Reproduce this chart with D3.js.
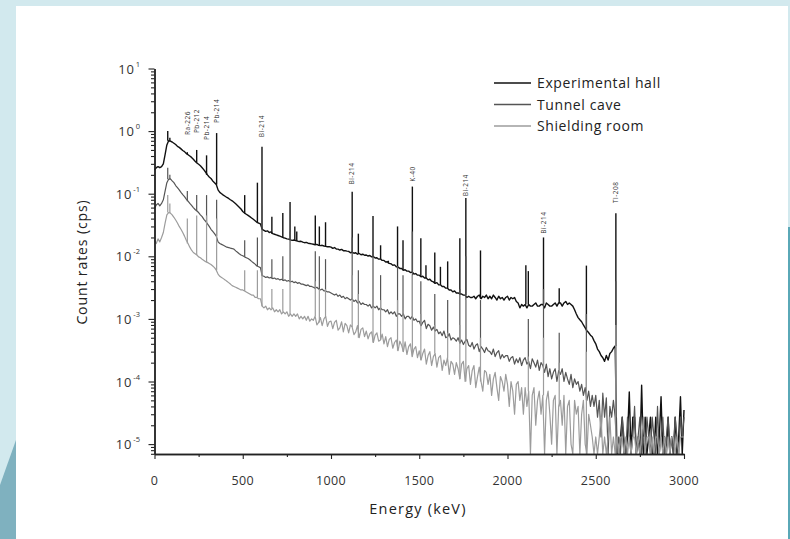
<!DOCTYPE html>
<html>
<head>
<meta charset="utf-8">
<script src="https://cdn.jsdelivr.net/npm/d3@7"></script>
<style>
body{margin:0;background:#fff;}
svg{display:block;font-family:"Open Sans",sans-serif;}
</style>
</head>
<body>
<script>
//energy grid of the spectra: one channel value every 10 keV from 0 keV
var eStart = 0, eStep = 10;

//experimental hall continuum (cps), rows of 100 keV
var hallCounts = [
 .24,.26,.27,.26,.27,.30,.42,.60,.70,.69,
 .67,.64,.61,.57,.55,.52,.49,.47,.44,.42,
 .40,.38,.355,.33,.31,.295,.28,.26,.24,.22,
 .20,.185,.175,.16,.15,.14,.115,.105,.10,.095,
 .091,.087,.084,.08,.077,.073,.069,.065,.061,.057,
 .052,.049,.047,.045,.043,.041,.039,.037,.035,.034,
 .033,.027,.026,.025,.0255,.024,.0245,.023,.0225,.022,
 .0215,.021,.0205,.0198,.0195,.019,.0188,.0183,.018,.0182,
 .0178,.0175,.0172,.0174,.0168,.0165,.0167,.0162,.016,.0158,
 .0156,.0153,.0155,.015,.0148,.015,.0146,.0144,.0142,.0143,
 .014,.0134,.0138,.0131,.013,.0126,.0129,.0123,.0123,.0121,
 .012,.0114,.0116,.0112,.0114,.0108,.0111,.0106,.0108,.0104,
 .0105,.0101,.0103,.0098,.0099,.0094,.0095,.009,.0091,.0086,
 .0086,.0081,.0082,.0077,.0076,.0072,.0073,.0068,.0067,.0064,
 .0064,.006,.0061,.0058,.0058,.0055,.0056,.0052,.0053,.005,
 .005,.0047,.0048,.0045,.0045,.0042,.0043,.004,.0039,.0037,
 .0038,.0035,.0035,.0033,.0033,.0031,.0031,.0029,.0029,.0027,
 .0028,.0026,.0026,.0025,.0025,.0024,.0024,.0022,.0023,.0022,
 .0022,.0023,.0021,.0023,.0024,.0021,.0023,.0022,.0024,.0021,
 .0023,.0021,.0024,.0022,.002,.0023,.0021,.0022,.002,.0022,
 .0023,.002,.0022,.0021,.0022,.0019,.0018,.0015,.0017,.0016,
 .0017,.0015,.0017,.0016,.0016,.0017,.0018,.0016,.0016,.0017,
 .0017,.0015,.0018,.0017,.0016,.0016,.0017,.0018,.0016,.0018,
 .0018,.0016,.0018,.0019,.0017,.0018,.0017,.0016,.0014,.0012,
 .00105,.00097,.0009,.0008,.00072,.00065,.0006,.00055,.00052,.00045,
 .0004,.00033,.0003,.00026,.00024,.00021,.00026,.00022,.00028,.0003,
 .00034,.00037,0,0,1.3e-5,2.7e-5,0,0,1.3e-5,6.8e-5,
 0,2.7e-5,2.7e-5,0,1.3e-5,0,8.7e-5,0,2.7e-5,0,
 1.3e-5,2.7e-5,0,0,2.7e-5,0,1.3e-5,5.7e-5,0,1.3e-5,
 0,2.7e-5,0,1.3e-5,0,2.7e-5,0,1.3e-5,5.7e-5,0,
 3.5e-5
];

//tunnel cave continuum (cps)
var tunnelCounts = [
 .058,.066,.07,.064,.07,.08,.11,.15,.17,.172,
 .16,.15,.135,.125,.115,.105,.097,.09,.082,.076,
 .07,.065,.06,.056,.053,.05,.046,.043,.039,.036,
 .033,.03,.027,.025,.023,.021,.017,.016,.0155,.015,
 .0145,.014,.0138,.0135,.0133,.013,.0122,.0116,.011,.0105,
 .0102,.0098,.0095,.0092,.0088,.0083,.0079,.0075,.007,.0068,
 .0066,.0049,.0048,.0046,.0047,.0045,.0046,.0044,.0045,.0043,
 .0044,.0042,.0043,.0041,.0042,.004,.0041,.0039,.004,.0038,
 .0039,.0037,.0038,.0036,.0036,.0035,.0034,.0035,.0033,.0033,
 .0032,.0031,.0032,.003,.0029,.003,.0028,.0028,.0027,.0027,
 .0026,.0025,.0024,.0025,.0023,.0024,.0022,.0023,.0021,.0022,
 .0021,.002,.0021,.0019,.002,.0018,.0019,.0017,.0018,.0017,
 .0017,.0016,.0017,.0015,.0016,.0015,.0016,.0014,.0015,.0014,
 .0014,.0013,.0014,.0012,.0013,.0012,.0013,.0011,.0012,.0012,
 .0011,.0012,.001,.0011,.0011,.001,.0011,.00095,.001,.0009,
 .00092,.00078,.00088,.00095,.0007,.00082,.00078,.00066,.00074,.00064,
 .00068,.00058,.00062,.00054,.00064,.0005,.00052,.00058,.00046,.0005,
 .00048,.00044,.0005,.00041,.00046,.00039,.00044,.00047,.00038,.00036,
 .00042,.00033,.00038,.0004,.0003,.00036,.00033,.00029,.00035,.00031,
 .0003,.00027,.00033,.00025,.00029,.00031,.00023,.00027,.00024,.00026,
 .00026,.00021,.00024,.00025,.00019,.00023,.0002,.00024,.00018,.00022,
 .00024,.00019,.00021,.00016,.00023,.0002,.00017,.00022,.00015,.0002,
 .00018,.00014,.00019,.00012,.00016,.00011,.00014,.00016,.0001,.00015,
 .00013,.00016,.0001,.00014,.00011,.00009,.00013,.00008,.00011,.00009,
 .0001,.00007,.00009,.00006,.00008,.00005,.00007,.00004,.00006,.00004,
 6e-5,2.7e-5,5e-5,1.3e-5,6.5e-5,2.7e-5,5.5e-5,0,4e-5,2.7e-5,
 5e-5,2.7e-5,0,1.3e-5,0,2.7e-5,1.3e-5,0,2.7e-5,1.3e-5,
 0,1.3e-5,4e-5,0,1.3e-5,2.7e-5,0,1.3e-5,0,2.7e-5,
 1.3e-5,0,2.7e-5,1.3e-5,0,4e-5,0,1.3e-5,2.7e-5,0,
 1.3e-5,2.7e-5,0,1.3e-5,0,2.7e-5,1.3e-5,0,2.7e-5,1.3e-5,
 2.7e-5
];

//shielding room continuum (cps)
var shieldCounts = [
 .018,.016,.019,.017,.02,.024,.034,.046,.05,.049,
 .046,.042,.038,.034,.03,.027,.024,.021,.018,.016,
 .014,.0125,.0115,.011,.0105,.0098,.0095,.009,.0086,.0082,
 .008,.0077,.0074,.007,.0066,.006,.0052,.0048,.0046,.0044,
 .0042,.004,.0038,.0036,.0034,.0033,.0032,.0031,.003,.0029,
 .0029,.0028,.0027,.0026,.0025,.0024,.0024,.0022,.0022,.0021,
 .0021,.0016,.0015,.0016,.0014,.0015,.0014,.0015,.0013,.0014,
 .0013,.0014,.0012,.0013,.0012,.0013,.0011,.0012,.0011,.0012,
 .0011,.0012,.001,.0011,.001,.0011,.00095,.0011,.00092,.001,
 .00095,.0011,.0008,.00088,.00105,.00078,.001,.0011,.00076,.0009,
 .00092,.0007,.00088,.00095,.00066,.00072,.0009,.00062,.00085,.00078,
 .0006,.0008,.00074,.00056,.00062,.00078,.0005,.00068,.00072,.00052,
 .00064,.00048,.00058,.00062,.00042,.00055,.0006,.00044,.00046,.00057,
 .0004,.00052,.00036,.00047,.0005,.00034,.00042,.00046,.00031,.00044,
 .00038,.0003,.00043,.00027,.00036,.0004,.00025,.00033,.00036,.00024,
 .00031,.00022,.00028,.00033,.00019,.00026,.0003,.00018,.00025,.00028,
 .00017,.00024,.00026,.00015,.00022,.00018,.00024,.00013,.00021,.00019,
 .00013,.0002,.00016,.00011,.00019,.00021,.0001,.00016,.00018,.00009,
 .00015,.00018,.00008,.00012,.00017,.0001,.00007,.00015,.00014,.00009,
 .00013,.00006,.00011,.00014,.00008,.00005,.00012,.0001,.00007,.00013,
 .00009,.00004,.0001,.00007,.00003,.00009,.0001,.00005,.00008,.00003,
 .00008,.00004,.00007,0,.00006,.00008,.00002,.00005,.00007,.00003,
 .00006,0,.00005,.00007,.00003,.00001,.00005,.00006,0,.00004,
 .00005,.00002,.00006,0,.00004,.00005,.00001,0,.00005,.00003,
 .00004,0,.00003,.00005,.00001,0,.00003,.00002,.000013,0,
 .000013,0,.000013,.000027,0,.000013,0,.000013,.000027,0,
 .000013,0,.000013,0,.000013,.000013,0,.000013,0,.000013,
 0,.000013,.000013,0,.000013,0,.000013,.000027,0,.000013,
 .000013,0,.000013,0,.000013,.000013,0,.000013,0,.000013,
 0,.000013,0,.000013,.000013,0,.000013,0,.000013,.000013,
 .000013
];

//gamma lines: [energy keV, peak top cps]
var hallPeaks = [[75,1.0],[87,.78],[186,.46],[239,.5],[295,.41],[352,.93],[511,.095],[583,.15],
 [609,.56],[665,.043],[727,.049],[768,.074],[795,.03],[806,.025],[911,.045],[934,.03],[969,.035],
 [1120,.107],[1155,.023],[1238,.044],[1281,.015],[1325,.0085],[1377,.03],[1408,.018],[1461,.13],
 [1509,.0195],[1538,.0072],[1588,.0115],[1620,.0068],[1661,.0083],[1730,.0195],[1764,.085],
 [1847,.0124],[2104,.0072],[2118,.0058],[2204,.02],[2293,.0031],[2447,.0071],[2614,.0486]];
var tunnelPeaks = [[75,.26],[87,.2],[186,.11],[239,.095],[295,.095],[352,.08],[511,.018],[583,.02],
 [609,.065],[665,.009],[727,.01],[768,.025],[911,.012],[934,.01],[969,.009],[1120,.02],[1155,.006],
 [1238,.012],[1281,.005],[1377,.007],[1408,.005],[1461,.025],[1509,.004],[1588,.0025],[1661,.002],
 [1730,.003],[1764,.01],[1847,.002],[2118,.001],[2204,.003],[2293,.0006],[2447,.0012],[2614,.004]];
var shieldPeaks = [[75,.095],[87,.07],[186,.04],[239,.045],[295,.045],[352,.04],[511,.006],[583,.006],
 [609,.02],[665,.003],[727,.003],[768,.005],[911,.004],[934,.003],[969,.003],[1120,.005],[1155,.0025],
 [1238,.003],[1281,.002],[1377,.002],[1408,.0015],[1461,.005],[1509,.0012],[1588,.0008],[1661,.0006],
 [1730,.0008],[1764,.002],[1847,.0005],[2118,.00025],[2204,.0005],[2293,.0002],[2447,.0003],[2614,.0008]];

//peak annotations: [name, energy keV, cps where the label starts]
var peakLabels = [["Ra-226",186,.87],["Pb-212",239,.93],["Pb-214",295,.72],["Pb-214",352,1.35],
 ["Bi-214",609,.8],["Bi-214",1120,.14],["K-40",1461,.155],["Bi-214",1764,.091],
 ["Bi-214",2204,.023],["Tl-208",2614,.071]];

var seriesNames = ["Experimental hall", "Tunnel cave", "Shielding room"];
var xTicks = [0, 500, 1000, 1500, 2000, 2500, 3000];
var yDecades = [-5, -4, -3, -2, -1, 0, 1];

var width = 790, height = 539;
var colors = ["#111", "#555", "#9c9c9c"];

var svg = d3.select("body").append("svg")
    .attr("width", width)
    .attr("height", height);

//slide background
svg.append("rect").attr("width", width).attr("height", height).attr("fill", "#d2e9ee");
svg.append("polygon").attr("points", "0,485 16,440 16,539 0,539").attr("fill", "#7fb1bf");
svg.append("rect").attr("x", 788).attr("y", 227).attr("width", 2).attr("height", 312).attr("fill", "#5aa8b7");
svg.append("rect").attr("x", 16).attr("y", 6).attr("width", 772).attr("height", 533).attr("fill", "#fff");

var yMin = 6.95e-6;
var x = d3.scaleLinear().domain([0, 3000]).range([154.5, 684]);
var y = d3.scaleLog().domain([yMin, 10]).range([454, 68.5]).clamp(true);
function yv(v){ return y(Math.max(v, yMin)); }

var line = d3.line()
    .x(function(d, i){ return x(eStart + i * eStep); })
    .y(function(d){ return yv(d); });

var series = [
    {counts: hallCounts, peaks: hallPeaks},
    {counts: tunnelCounts, peaks: tunnelPeaks},
    {counts: shieldCounts, peaks: shieldPeaks}
];

//each spectrum: continuum line, then its gamma lines rising from the nearest channel
var spec = svg.selectAll(".spec")
    .data(series)
    .enter()
    .append("g")
    .attr("class", "spec")
    .attr("stroke", function(d, i){ return colors[i]; })
    .attr("stroke-width", function(d, i){ return i == 0 ? 1.4 : 1.2; });

spec.append("path")
    .attr("d", function(d){ return line(d.counts); })
    .attr("fill", "none")
    .attr("stroke-linejoin", "round");

spec.selectAll(".pk")
    .data(function(d){
        return d.peaks.map(function(p){
            return [p[0], p[1], d.counts[Math.round((p[0] - eStart) / eStep)]];
        });
    })
    .enter()
    .append("line")
    .attr("class", "pk")
    .attr("x1", function(d){ return x(d[0]); })
    .attr("x2", function(d){ return x(d[0]); })
    .attr("y1", function(d){ return yv(d[2]); })
    .attr("y2", function(d){ return yv(d[1]); });

//axes
var axisColor = "#222";
var xMinor = d3.pairs(xTicks, function(a, b){ return (a + b) / 2; });
var gx = svg.append("g").attr("transform", "translate(0,454)");
gx.call(d3.axisBottom(x).tickValues(xTicks).tickSize(5).tickSizeOuter(0).tickFormat(""));
gx.append("g").call(d3.axisBottom(x).tickValues(xMinor).tickSize(3).tickSizeOuter(0).tickFormat(""));

var yMajor = yDecades.map(function(d){ return Math.pow(10, d); });
var yMinorTicks = [];
[-6, -5, -4, -3, -2, -1, 0].forEach(function(d){
    for (var k = 2; k < 10; k++){
        var v = k * Math.pow(10, d);
        if (v >= yMin && v <= 10) yMinorTicks.push(v);
    }
});
var gy = svg.append("g").attr("transform", "translate(154.5,0)");
gy.call(d3.axisLeft(y).tickValues(yMajor).tickSize(6).tickSizeOuter(0).tickFormat(""));
gy.append("g").call(d3.axisLeft(y).tickValues(yMinorTicks).tickSize(3.5).tickSizeOuter(0).tickFormat(""));

svg.selectAll(".domain").attr("stroke", axisColor).attr("stroke-width", 1.4);
svg.selectAll(".tick line").attr("stroke", axisColor).attr("stroke-width", 1.1);

//tick labels
svg.selectAll(".xlab")
    .data(xTicks)
    .enter()
    .append("text")
    .attr("class", "xlab")
    .attr("x", function(d){ return x(d); })
    .attr("y", 485)
    .attr("text-anchor", "middle")
    .attr("font-size", 12.5)
    .attr("letter-spacing", 0.4)
    .attr("fill", "#333")
    .text(function(d){ return d; });

var ylab = svg.selectAll(".ylab")
    .data(yDecades)
    .enter()
    .append("text")
    .attr("class", "ylab")
    .attr("x", 140)
    .attr("y", function(d){ return y(Math.pow(10, d)) + 5; })
    .attr("text-anchor", "end")
    .attr("fill", "#333");
ylab.append("tspan").attr("font-size", 13).attr("letter-spacing", 0.8).text("10");
ylab.append("tspan").attr("font-size", 7.5).attr("dy", -7).attr("dx", 1).text(function(d){ return d; });

//axis titles
svg.append("text")
    .attr("transform", "translate(87,262) rotate(-90)")
    .attr("text-anchor", "middle")
    .attr("font-size", 14)
    .attr("letter-spacing", 0.9)
    .attr("fill", "#222")
    .text("Count rates (cps)");

svg.append("text")
    .attr("x", 418)
    .attr("y", 514)
    .attr("text-anchor", "middle")
    .attr("font-size", 14.5)
    .attr("letter-spacing", 1.2)
    .attr("fill", "#222")
    .text("Energy (keV)");

//peak names
svg.selectAll(".plab")
    .data(peakLabels)
    .enter()
    .append("text")
    .attr("class", "plab")
    .attr("transform", function(d){ return "translate(" + (x(d[1]) + 2.3) + "," + y(d[2]) + ") rotate(-90)"; })
    .attr("font-size", 6.5)
    .attr("letter-spacing", 0.5)
    .attr("fill", "#333")
    .text(function(d){ return d[0]; });

//legend
var legend = svg.selectAll(".leg")
    .data(seriesNames)
    .enter()
    .append("g")
    .attr("class", "leg")
    .attr("transform", function(d, i){ return "translate(494," + (83 + i * 21.5) + ")"; });
legend.append("line")
    .attr("x1", 0).attr("x2", 37)
    .attr("stroke", function(d, i){ return colors[i]; })
    .attr("stroke-width", 1.5);
legend.append("text")
    .attr("x", 43)
    .attr("y", 5)
    .attr("font-size", 14)
    .attr("letter-spacing", 0.6)
    .attr("fill", "#222")
    .text(function(d){ return d; });
</script>
</body>
</html>
